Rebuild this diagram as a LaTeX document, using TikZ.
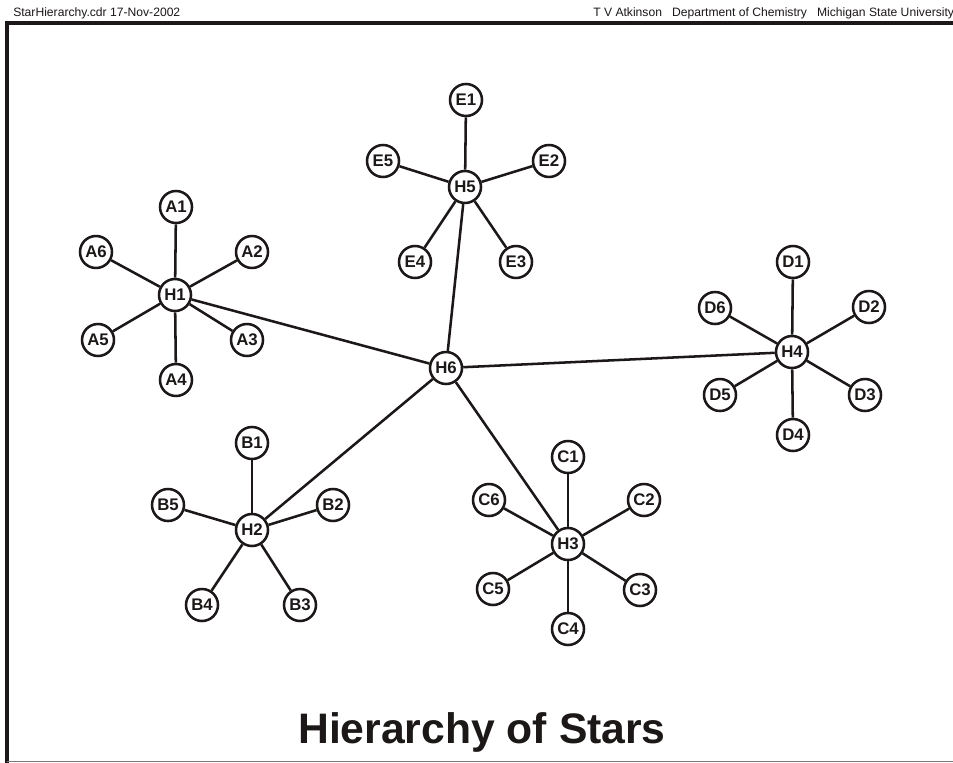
\documentclass[tikz,border=0pt]{standalone}
\usepackage{fontspec}
\setmainfont{Liberation Sans}
\definecolor{ink}{RGB}{28,24,24}
\definecolor{rule}{RGB}{120,120,120}
\begin{document}
\begin{tikzpicture}[x=0.75pt,y=-0.75pt,
  vert/.style={circle,draw=ink,line width=1.9pt,fill=white,minimum size=24pt,inner sep=0pt,
    font=\fontsize{12.6}{12.6}\selectfont\bfseries,text=ink},
  link/.style={draw=ink,line width=1.9pt},
  header/.style={font=\fontsize{9.1}{9.1}\selectfont,text=ink,inner sep=0pt,anchor=base west}]
\useasboundingbox (0,0) rectangle (953,763);
\fill[white] (0,0) rectangle (953,763);

% frame
\draw[ink,line width=3pt] (7,763) -- (7,23) -- (953,23);
\draw[rule,line width=1.2pt] (7,761.5) -- (953,761.5);

% header lines
\node[header] (hl) at (13,17) {StarHierarchy.cdr 17-Nov-2002};
\node[header] (hr) at (593,17) {T V Atkinson\ \ \ Department of Chemistry\ \ \ Michigan State University};

% hubs
\node[vert] (H1) at (175,295) {H1};
\node[vert] (H2) at (252,530) {H2};
\node[vert] (H3) at (568,544) {H3};
\node[vert] (H4) at (792,352) {H4};
\node[vert] (H5) at (465,187) {H5};
\node[vert] (H6) at (446,368) {H6};

% star A
\node[vert] (A1) at (176,207) {A1};
\node[vert] (A2) at (252,252) {A2};
\node[vert] (A3) at (247,340) {A3};
\node[vert] (A4) at (176,380) {A4};
\node[vert] (A5) at (98,340) {A5};
\node[vert] (A6) at (96,252) {A6};

% star B
\node[vert] (B1) at (252,443) {B1};
\node[vert] (B2) at (333,505) {B2};
\node[vert] (B3) at (300,605) {B3};
\node[vert] (B4) at (202,605) {B4};
\node[vert] (B5) at (168,505) {B5};

% star C
\node[vert] (C1) at (568,457) {C1};
\node[vert] (C2) at (644,500) {C2};
\node[vert] (C3) at (640,590) {C3};
\node[vert] (C4) at (568,629) {C4};
\node[vert] (C5) at (493,589) {C5};
\node[vert] (C6) at (489,500) {C6};

% star D
\node[vert] (D1) at (793,262) {D1};
\node[vert] (D2) at (869,307) {D2};
\node[vert] (D3) at (865,395) {D3};
\node[vert] (D4) at (793,435) {D4};
\node[vert] (D5) at (720,395) {D5};
\node[vert] (D6) at (715,308) {D6};

% star E
\node[vert] (E1) at (466,100) {E1};
\node[vert] (E2) at (549,161) {E2};
\node[vert] (E3) at (516,262) {E3};
\node[vert] (E4) at (415,262) {E4};
\node[vert] (E5) at (383,161) {E5};

% spokes from each hub to its leaves, and from the centre to the hubs
\foreach \leaf in {A1,A2,A3,A4,A5,A6} \draw[link] (H1) -- (\leaf);
\foreach \leaf in {B1,B2,B3,B4,B5} \draw[link] (H2) -- (\leaf);
\foreach \leaf in {C1,C2,C3,C4,C5,C6} \draw[link] (H3) -- (\leaf);
\foreach \leaf in {D1,D2,D3,D4,D5,D6} \draw[link] (H4) -- (\leaf);
\foreach \leaf in {E1,E2,E3,E4,E5} \draw[link] (H5) -- (\leaf);
\foreach \hub in {H1,H2,H3,H4,H5} \draw[link] (H6) -- (\hub);

% title
\node[font=\fontsize{32}{32}\selectfont\bfseries,text=ink,inner sep=0pt,anchor=base] (title) at (482,743) {Hierarchy of Stars};
\end{tikzpicture}
\end{document}
